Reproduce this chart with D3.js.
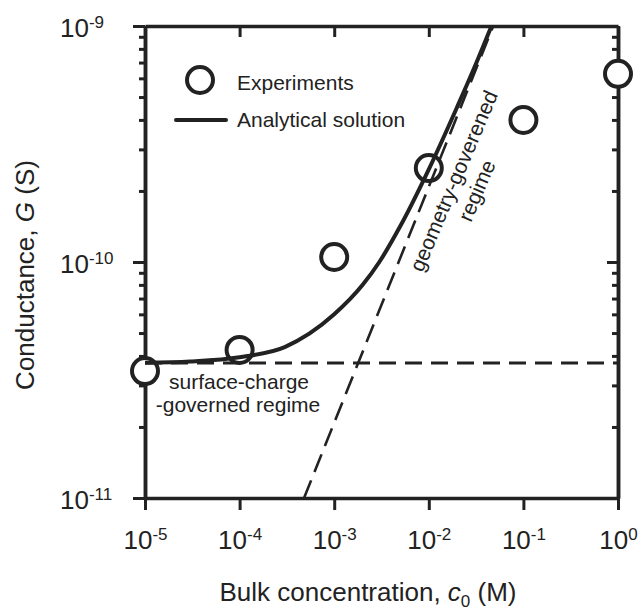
<!DOCTYPE html>
<html>
<head>
<meta charset="utf-8">
<script src="https://cdn.jsdelivr.net/npm/d3@7"></script>
<style>
  body { margin: 0; background: #fff; }
  text { font-family: "Liberation Sans", Arial, sans-serif; fill: #222; }
</style>
</head>
<body>
<script>
// experiments
var concentration = [1e-5, 1e-4, 1e-3, 1e-2, 1e-1, 1];
var experimentG = [3.45e-11, 4.24e-11, 1.05e-10, 2.50e-10, 4.0e-10, 6.27e-10];

// analytical solution
var solutionC = [1e-5, 3e-5, 1e-4, 3e-4, 1e-3, 2e-3, 3e-3, 5e-3, 1e-2, 2e-2, 3e-2, 4.6e-2];
var solutionG = [3.74e-11, 3.79e-11, 3.95e-11, 4.36e-11, 6.0e-11, 8.0e-11, 1.0e-10, 1.42e-10, 2.47e-10, 4.55e-10, 6.6e-10, 1.0e-9];

// limiting regimes (dashed)
var surfaceC = [1e-5, 1];
var surfaceG = [3.73e-11, 3.73e-11];
var geometryC = [4.8e-4, 4.8e-2];
var geometryG = [1e-11, 1e-9];

var xTicks = [1e-5, 1e-4, 1e-3, 1e-2, 1e-1, 1];
var yTicks = [1e-11, 1e-10, 1e-9];
var yMinor = [2e-11, 3e-11, 4e-11, 5e-11, 6e-11, 7e-11, 8e-11, 9e-11,
              2e-10, 3e-10, 4e-10, 5e-10, 6e-10, 7e-10, 8e-10, 9e-10];

var width = 641, height = 610;
var ink = "#222";

var svg = d3.select("body").append("svg")
    .attr("width", width)
    .attr("height", height);

var x = d3.scaleLog().domain([1e-5, 1]).range([145, 618]);
var y = d3.scaleLog().domain([1e-11, 1e-9]).range([498, 26]);

function power(d){ return Math.round(Math.log10(d)); }

function styleAxis(g){
    g.select(".domain").attr("stroke", ink).attr("stroke-width", 3.5);
    g.selectAll(".tick line").attr("stroke", ink).attr("stroke-width", 3);
}

function powLabels(g){
    g.selectAll(".tick text").each(function(d){
        var t = d3.select(this).text(null);
        t.append("tspan").text("10");
        t.append("tspan").attr("dy", -9).attr("font-size", 17).text(power(d));
    });
}

// top and right: inward ticks
var topAxis = svg.append("g").attr("transform", "translate(0,26)")
    .call(d3.axisTop(x).tickValues(xTicks).tickSize(-11).tickSizeOuter(0).tickFormat(""));
styleAxis(topAxis);

var rightAxis = svg.append("g").attr("transform", "translate(618,0)")
    .call(d3.axisRight(y).tickValues(yTicks).tickSize(-11).tickSizeOuter(0).tickFormat(""));
styleAxis(rightAxis);
var rightMinor = svg.append("g").attr("transform", "translate(618,0)")
    .call(d3.axisRight(y).tickValues(yMinor).tickSize(-6).tickSizeOuter(0).tickFormat(""));
styleAxis(rightMinor);

// bottom
var bottomAxis = svg.append("g").attr("transform", "translate(0,498)")
    .call(d3.axisBottom(x).tickValues(xTicks).tickSize(12).tickSizeOuter(0));
styleAxis(bottomAxis);
bottomAxis.selectAll(".tick text")
    .attr("y", 51).attr("dy", 0)
    .attr("font-size", 26).attr("fill", ink);
powLabels(bottomAxis);

// left, labels start at a common left edge
var leftAxis = svg.append("g").attr("transform", "translate(145,0)")
    .call(d3.axisLeft(y).tickValues(yTicks).tickSize(12).tickSizeOuter(0));
styleAxis(leftAxis);
leftAxis.selectAll(".tick text")
    .attr("x", -85).attr("y", 10).attr("dy", 0)
    .attr("text-anchor", "start")
    .attr("font-size", 26).attr("fill", ink);
powLabels(leftAxis);
var leftMinor = svg.append("g").attr("transform", "translate(145,0)")
    .call(d3.axisLeft(y).tickValues(yMinor).tickSize(6).tickSizeOuter(0).tickFormat(""));
styleAxis(leftMinor);

// axis titles
var xTitle = svg.append("text")
    .attr("x", 368).attr("y", 601)
    .attr("text-anchor", "middle")
    .attr("font-size", 26);
xTitle.append("tspan").text("Bulk concentration, ");
xTitle.append("tspan").attr("font-style", "italic").text("c");
xTitle.append("tspan").attr("font-size", 17).attr("dy", 6).text("0");
xTitle.append("tspan").attr("dy", -6).text(" (M)");

var yTitle = svg.append("text")
    .attr("transform", "translate(34,275)rotate(-90)")
    .attr("text-anchor", "middle")
    .attr("font-size", 26);
yTitle.append("tspan").text("Conductance, ");
yTitle.append("tspan").attr("font-style", "italic").text("G");
yTitle.append("tspan").text(" (S)");

// experiment markers (white fill hides the frame under them)
svg.append("g").selectAll("circle")
    .data(concentration)
    .enter()
    .append("circle")
    .attr("cx", function(d){ return x(d); })
    .attr("cy", function(d, i){ return y(experimentG[i]); })
    .attr("r", 13)
    .attr("fill", "#fff")
    .attr("stroke", ink)
    .attr("stroke-width", 4);

var line = d3.line()
    .x(function(d){ return x(d[0]); })
    .y(function(d){ return y(d[1]); });

svg.append("path")
    .attr("d", line(d3.zip(surfaceC, surfaceG)))
    .attr("fill", "none").attr("stroke", ink)
    .attr("stroke-width", 3).attr("stroke-dasharray", "17,9");

svg.append("path")
    .attr("d", line(d3.zip(geometryC, geometryG)))
    .attr("fill", "none").attr("stroke", ink)
    .attr("stroke-width", 2.6).attr("stroke-dasharray", "19,9");

svg.append("path")
    .attr("d", line.curve(d3.curveMonotoneX)(d3.zip(solutionC, solutionG)))
    .attr("fill", "none").attr("stroke", ink)
    .attr("stroke-width", 4);

// legend
svg.append("circle")
    .attr("cx", 200).attr("cy", 80).attr("r", 13)
    .attr("fill", "#fff").attr("stroke", ink).attr("stroke-width", 4);
svg.append("text").attr("x", 237).attr("y", 90).attr("font-size", 21).text("Experiments");
svg.append("line")
    .attr("x1", 176).attr("x2", 226).attr("y1", 120).attr("y2", 120)
    .attr("stroke", ink).attr("stroke-width", 4).attr("stroke-linecap", "round");
svg.append("text").attr("x", 237).attr("y", 127).attr("font-size", 21).text("Analytical solution");

// regime notes
svg.append("text").attr("x", 239).attr("y", 389)
    .attr("text-anchor", "middle").attr("font-size", 21).text("surface-charge");
svg.append("text").attr("x", 238).attr("y", 412)
    .attr("text-anchor", "middle").attr("font-size", 21).text("-governed regime");

var geo = svg.append("g").attr("transform", "translate(454,181)rotate(-67)");
geo.append("text").attr("y", 7)
    .attr("text-anchor", "middle").attr("font-size", 21).text("geometry-goverened");
geo.append("text").attr("y", 32)
    .attr("text-anchor", "middle").attr("font-size", 21).text("regime");
</script>
</body>
</html>
